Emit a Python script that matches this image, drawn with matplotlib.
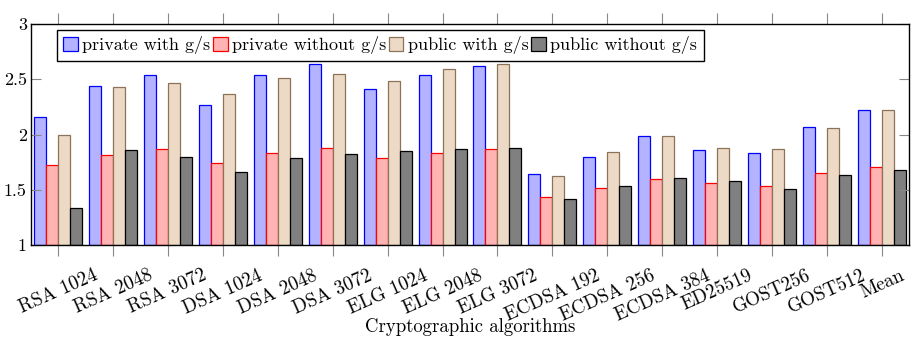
import matplotlib
matplotlib.use("Agg")
import matplotlib.pyplot as plt
import numpy as np

plt.rcParams['font.family'] = ['cmr10', 'DejaVu Serif']
plt.rcParams['mathtext.fontset'] = 'cm'
plt.rcParams['axes.formatter.use_mathtext'] = True

categories = ["RSA 1024", "RSA 2048", "RSA 3072", "DSA 1024", "DSA 2048", "DSA 3072",
              "ELG 1024", "ELG 2048", "ELG 3072", "ECDSA 192", "ECDSA 256", "ECDSA 384",
              "ED25519", "GOST256", "GOST512", "Mean"]
private_gs = [2.16, 2.44, 2.535, 2.27, 2.54, 2.635, 2.415, 2.54, 2.62, 1.64, 1.80, 1.986,
              1.857, 1.83, 2.065, 2.225]
private_nogs = [1.724, 1.81, 1.87, 1.74, 1.835, 1.875, 1.79, 1.83, 1.87, 1.43, 1.513, 1.60,
                1.56, 1.53, 1.655, 1.71]
public_gs = [2.00, 2.43, 2.47, 2.37, 2.51, 2.55, 2.48, 2.59, 2.64, 1.627, 1.845, 1.983,
             1.88, 1.87, 2.06, 2.22]
public_nogs = [1.335, 1.857, 1.80, 1.66, 1.79, 1.82, 1.85, 1.87, 1.875, 1.42, 1.537, 1.606,
               1.576, 1.504, 1.63, 1.676]
series_labels = ["private with g/s", "private without g/s", "public with g/s", "public without g/s"]
yticks = [1, 1.5, 2, 2.5, 3]
ytick_labels = ["1", "1.5", "2", "2.5", "3"]

fills = ["#b3b3ff", "#ffb3b3", "#ecdac6", "#808080"]
edges = ["#0000ff", "#ff0000", "#8c7358", "#000000"]

W, H = 916, 338
fig = plt.figure(figsize=(W / 100, H / 100), dpi=100)
ax = fig.add_axes([31 / W, 1 - 245 / H, (909 - 31) / W, (245 - 24) / H])

x = np.arange(len(categories))
bw = 12 / 55
data = [private_gs, private_nogs, public_gs, public_nogs]
for i, (vals, fc, ec, lab) in enumerate(zip(data, fills, edges, series_labels)):
    ax.bar(x + (i - 1.5) * bw, np.array(vals) - 1, bottom=1, width=bw,
           facecolor=fc, edgecolor=ec, linewidth=0.9, label=lab)

ax.set_xlim(-0.49, 15.49)
ax.set_ylim(1, 3)
ax.set_yticks(yticks)
ax.set_yticklabels(ytick_labels, fontsize=13)
ax.set_xticks(x)
ax.set_xticklabels(categories, rotation=24, ha='center', va='top',
                   rotation_mode='default', fontsize=13.8)
ax.tick_params(axis='x', which='both', direction='out', length=8, width=0.8,
               color='#888888', top=True, bottom=True, pad=7.5)
ax.tick_params(axis='y', which='both', direction='in', length=7, width=0.8,
               color='#888888', left=True, right=True, pad=3)
for s in ax.spines.values():
    s.set_linewidth(1.0)
    s.set_color('black')

ax.set_xlabel("Cryptographic algorithms", fontsize=13.5)
ax.xaxis.set_label_coords(0.5, (245 - 327) / 221)
ax.xaxis.label.set_va('center')

leg = ax.legend(loc='upper left', bbox_to_anchor=(0.0296, 0.973), borderaxespad=0,
                ncol=4, fontsize=13, frameon=True, fancybox=False, framealpha=1,
                edgecolor='black', handlelength=0.8, handleheight=0.8,
                handletextpad=0.25, columnspacing=0.15, borderpad=0.35)
leg.get_frame().set_linewidth(1.0)

fig.savefig("out.png", dpi=100)
